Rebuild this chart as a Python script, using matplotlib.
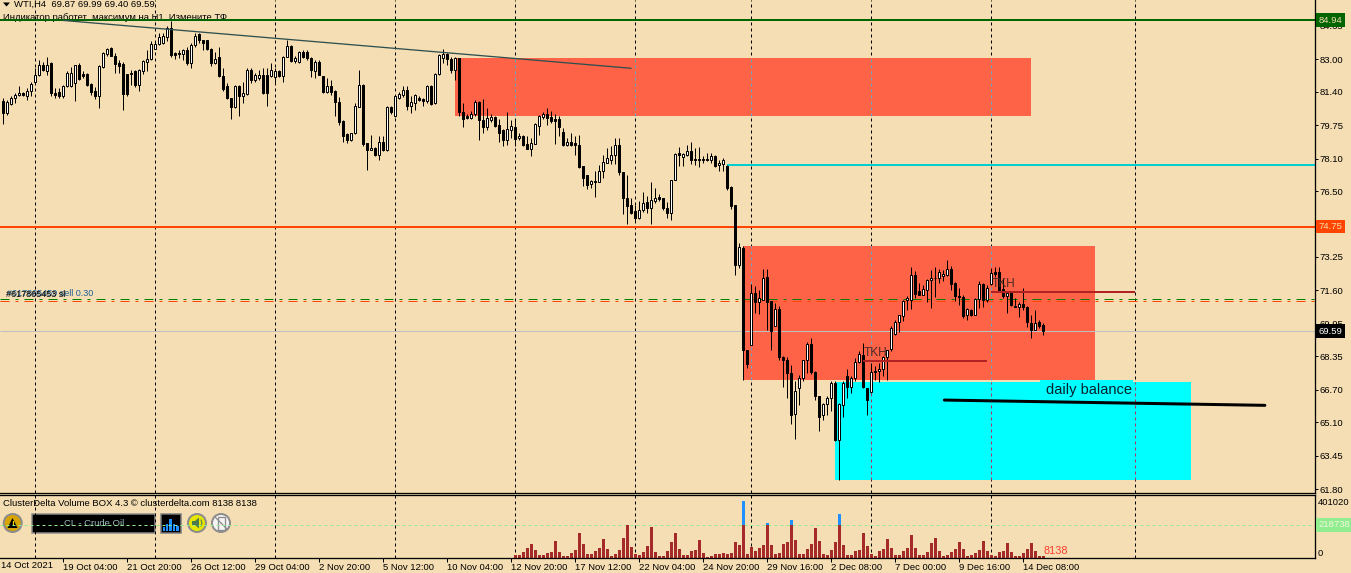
'''
WTI H4 terminal screenshot redone in matplotlib: candles, zones, levels, cluster volume pane
'''
import numpy as np
from matplotlib import pyplot as plt
from matplotlib.patches import Circle, Polygon, Rectangle

plt.rcParams['font.family'] = ['Liberation Sans', 'DejaVu Sans']

# candles, one value per H4 bar
opens = [80.95,80.34,80.80,81.07,81.23,81.33,81.20,81.43,81.86,82.23,
    82.71,82.40,82.84,81.36,81.40,81.20,81.66,81.69,81.82,82.73,
    82.28,82.28,81.79,81.44,81.20,82.64,83.25,83.55,83.17,82.81,
    82.78,82.28,82.28,82.41,81.74,82.40,82.89,83.01,83.53,83.75,
    83.79,84.12,84.53,83.30,83.33,83.27,83.47,82.81,83.71,84.24,
    83.93,83.93,83.50,82.84,83.10,82.18,81.69,81.08,80.67,81.66,
    81.17,81.30,82.48,81.99,82.07,82.23,82.23,82.18,82.15,82.40,
    82.18,83.10,83.66,82.94,82.89,83.38,83.38,83.05,82.40,82.89,
    82.18,81.41,
    81.69,81.46,80.90,79.97,79.33,79.03,79.36,80.67,81.74,78.87,
    78.51,78.64,78.29,78.93,78.51,80.64,80.18,81.10,81.25,81.50,
    80.71,80.87,81.08,81.04,80.94,81.69,80.84,82.27,83.09,83.27,
    83.02,82.48,83.06,80.41,80.21,80.12,80.28,80.90,80.02,79.66,
    80.02,80.16,79.77,79.49,79.03,79.52,79.67,79.10,79.23,78.83,
    78.60,78.83,79.69,80.15,80.31,80.15,80.05,80.08,79.43,78.78,
    78.90,78.87,78.77,77.75,77.31,76.83,77.01,76.96,77.47,77.91,
    78.05,78.26,78.78,77.45,76.17,75.83,75.51,75.19,75.55,75.94,
    75.65,76.01,76.21,76.17,75.65,75.42,77.03,78.37,78.18,78.29,
    78.49,78.09,78.09,78.09,78.06,78.01,78.21,77.77,77.85,77.75,
    76.68,75.82,72.83,73.70,68.68,68.92,71.47,71.01,
    71.14,72.26,71.08,69.83,70.70,68.30,68.18,67.53,65.51,66.77,
    67.26,68.15,68.97,67.59,66.41,65.44,66.00,66.28,67.03,64.21,
    65.93,67.36,66.84,67.26,68.05,68.43,66.79,66.59,67.64,67.61,
    67.72,68.30,68.71,69.47,70.03,70.32,71.11,71.14,72.36,71.59,
    71.39,71.60,72.09,72.23,72.21,72.29,72.37,72.67,71.96,71.34,
    71.27,70.40,70.65,70.37,71.17,71.91,71.11,71.91,72.50,72.50,
    71.67,71.31,71.50,70.85,70.78,70.94,70.78,69.99,69.66,70.06,
    69.87]
highs = [81.08,81.00,81.17,81.33,81.66,81.41,81.58,81.90,82.56,82.97,
    82.89,83.10,82.89,81.58,81.58,81.74,82.40,82.64,82.73,82.81,
    82.40,82.32,81.82,81.63,82.73,83.38,83.58,83.63,83.30,82.97,
    82.89,82.28,82.45,82.45,82.51,82.97,83.47,83.88,83.88,84.29,
    84.29,84.62,84.91,83.38,83.47,83.50,83.63,83.79,84.29,84.32,
    83.96,83.96,83.55,83.38,83.63,82.56,81.82,81.08,81.74,81.74,
    81.90,82.56,82.56,82.32,82.48,82.56,82.56,82.81,82.56,82.48,
    83.14,83.96,83.71,83.14,83.43,83.47,83.47,83.10,82.97,82.97,
    82.18,82.07,
    81.96,81.50,81.13,80.02,79.36,79.39,80.84,82.48,81.79,78.87,
    79.28,78.67,79.20,79.20,80.71,80.71,81.25,81.41,81.66,81.66,
    81.17,81.28,81.17,81.08,81.74,81.74,82.32,83.27,83.50,83.30,
    83.11,83.11,83.09,80.84,80.31,80.43,80.97,80.92,81.04,80.59,
    80.31,80.21,80.05,79.56,80.41,80.02,80.02,79.36,79.28,79.20,
    79.11,79.85,80.26,80.38,80.59,80.46,80.31,80.18,79.61,79.11,
    79.36,79.20,79.28,77.75,77.31,77.06,77.47,77.80,78.29,78.62,
    78.70,79.11,79.11,77.45,77.31,76.16,75.83,75.99,76.44,76.24,
    76.93,76.65,76.37,76.17,75.94,77.06,78.37,78.67,78.37,78.78,
    78.93,78.62,78.67,78.21,78.37,78.37,78.29,78.05,78.13,77.80,
    76.76,75.82,73.93,73.80,68.68,71.93,71.80,71.63,
    72.65,72.65,71.08,70.98,70.81,68.35,68.32,67.94,67.12,67.44,
    68.18,69.04,69.25,67.61,66.41,66.05,66.41,67.12,67.12,66.05,
    67.12,67.72,67.36,68.27,68.59,69.00,66.79,68.02,67.86,68.02,
    68.38,68.68,69.83,70.15,70.40,71.14,71.31,72.75,72.54,71.96,
    71.88,72.16,72.62,72.75,72.65,72.59,73.11,72.78,72.00,71.72,
    71.39,70.73,70.68,71.22,72.04,71.96,71.88,72.70,72.75,72.75,
    72.21,71.55,71.50,71.22,71.01,71.72,70.81,70.40,70.65,70.15,
    69.99]
lows = [79.82,80.26,80.75,80.84,81.17,81.17,81.00,81.17,81.82,82.18,
    82.40,82.23,81.17,81.08,81.08,81.08,81.63,81.63,80.92,81.99,
    82.07,81.66,81.25,81.03,80.59,82.56,83.14,83.14,82.35,82.32,
    80.51,81.17,81.74,81.63,81.46,82.28,82.40,82.97,83.50,83.71,
    83.76,83.88,83.10,83.01,83.05,82.97,82.73,82.56,83.63,83.83,
    83.47,83.47,82.68,82.78,82.12,81.46,81.03,80.05,80.59,80.18,
    80.84,81.25,81.82,81.90,81.99,81.30,80.71,82.15,81.82,82.15,
    81.90,83.10,82.89,82.84,82.84,83.05,82.97,82.15,82.07,82.23,
    81.33,81.33,
    81.25,80.18,79.77,78.90,78.87,78.95,79.33,80.67,78.74,77.52,
    78.51,78.21,78.05,78.46,78.46,80.31,80.15,81.04,81.13,80.51,
    80.35,80.51,80.92,80.71,80.84,80.76,80.81,82.23,82.84,82.73,
    82.32,81.99,80.21,79.66,80.05,80.05,80.21,79.03,79.36,79.52,
    79.93,79.66,78.90,78.70,78.78,79.11,78.74,79.03,78.70,78.57,
    78.21,78.83,79.28,80.05,79.77,79.85,78.83,79.20,78.74,78.74,
    78.70,78.29,77.63,76.76,76.60,76.65,76.21,76.93,77.14,77.88,
    77.85,77.85,77.31,75.38,74.89,75.38,75.01,75.12,75.45,75.42,
    74.89,75.91,75.99,75.58,75.17,75.05,77.03,77.75,77.72,78.21,
    77.85,77.80,77.68,77.88,77.96,77.91,77.68,77.47,77.47,76.53,
    75.64,72.37,72.70,67.20,67.77,68.92,70.48,70.45,
    71.11,69.63,68.64,69.83,68.19,66.84,66.29,65.03,64.27,65.97,
    67.12,67.53,67.49,66.18,64.65,65.19,65.47,65.64,64.16,62.24,
    65.34,66.29,66.54,67.12,68.02,66.77,65.44,66.54,67.20,67.08,
    67.36,67.20,68.60,69.42,69.53,70.07,70.65,70.68,71.22,71.35,
    71.39,71.01,70.73,71.27,71.96,72.04,72.33,71.63,71.06,70.90,
    70.24,70.12,70.32,70.37,70.73,70.78,71.01,71.88,72.26,71.55,
    71.22,70.48,70.81,70.77,70.27,70.65,69.78,69.25,69.66,69.74,
    69.40]
closes = [80.34,80.90,81.08,81.25,81.33,81.26,81.44,81.79,82.23,82.71,
    82.45,82.71,81.36,81.23,81.20,81.69,82.35,82.35,82.73,82.04,
    82.18,81.74,81.41,81.20,82.68,83.30,83.51,83.17,82.76,82.69,
    81.30,81.30,82.35,81.74,82.45,82.92,83.01,83.75,83.75,84.12,
    84.16,84.53,83.22,83.22,83.27,83.47,82.84,83.71,84.16,83.93,
    83.83,83.50,82.84,83.01,82.18,81.53,81.07,80.67,81.66,81.17,
    81.33,82.48,81.99,82.23,82.23,81.33,81.33,82.48,82.43,82.18,
    83.10,83.66,82.94,83.05,83.38,83.10,83.05,82.45,82.89,82.23,
    81.41,81.69,
    81.41,80.90,79.93,79.20,79.03,79.36,80.71,81.74,78.83,78.54,
    78.64,78.29,78.93,78.51,80.67,80.38,81.20,81.28,81.50,80.71,
    80.89,81.25,81.00,80.95,81.69,80.81,82.27,83.22,83.27,83.02,
    82.48,83.06,80.38,80.08,80.13,80.30,80.90,80.02,79.66,80.10,
    80.15,79.72,79.36,79.03,79.56,79.72,79.08,79.23,78.78,78.59,
    78.87,79.82,80.21,80.30,80.12,79.95,79.97,79.66,78.78,78.92,
    78.78,78.78,77.68,77.13,76.80,77.01,76.94,77.49,77.95,78.13,
    78.29,78.78,77.42,76.17,75.78,75.42,75.19,75.58,75.91,75.65,
    76.07,76.17,76.11,75.65,75.42,77.06,78.32,78.29,78.32,78.49,
    78.05,78.05,78.01,78.03,78.01,78.21,77.72,77.88,78.05,76.63,
    75.78,72.83,73.74,68.64,67.99,71.47,71.01,71.22,
    72.21,71.01,69.61,70.68,68.30,68.15,67.53,65.44,66.64,67.28,
    68.15,68.97,67.59,66.38,65.34,66.00,66.29,67.03,64.24,65.99,
    67.03,66.82,67.28,68.07,68.46,66.82,66.21,67.58,67.56,67.74,
    68.32,68.68,69.74,70.04,70.40,71.09,71.22,72.36,71.44,71.39,
    71.68,72.13,72.21,72.19,72.50,72.41,72.65,71.93,71.31,71.26,
    70.32,70.68,70.37,71.19,71.91,71.11,71.72,72.46,72.42,71.59,
    71.31,71.47,70.88,70.77,70.94,70.77,70.03,69.66,69.99,69.83,
    69.59]

# cluster volume, starts at bar 128
vol_start = 128
volumes = [13400,13400,33500,60300,93700,46900,13400,13400,26800,33500,
    113800,33500,6700,6700,26800,46900,167400,93700,20100,20100,
    40200,60300,127200,53600,6700,20100,46900,133900,216000,67000,
    20100,13400,33500,73700,200900,33500,6700,6700,40200,107100,
    167400,53600,13400,13400,40200,46900,120500,26800,2200,6700,
    20100,20100,26800,20100,26800,107100,87000,375000,20100,67000,
    40200,60300,87000,227700,87000,20100,26800,
    93700,107100,247800,120500,20100,20100,53600,93700,194200,113800,
    20100,13400,46900,107100,294600,80400,13400,13400,40200,46900,
    167400,73700,20100,6700,40200,53600,127200,60300,13400,13400,
    40200,60300,154000,60300,13400,13400,33500,100400,133900,40200,
    6700,13400,33500,53600,107100,53600,6700,13400,26800,46900,
    113800,40200,13400,6700,33500,40200,100400,33500,6700,6700,
    26800,53600,100400,40200,6700,8138]
vol_level = 218738

# levels: price, first bar, colour
level_prices = [84.94, 77.79, 74.75]
level_starts = [-1, 181, -1]
level_colors = ['#006400', '#00CED1', '#FF4500']
bid = 69.59
order_prices = [71.16, 71.06]
order_colors = ['#008000', '#FF4500']

# zones: first bar, last bar, top, bottom
zone_left = [112.925, 184.925, 207.925]
zone_right = [256.925, 272.925, 296.925]
zone_top = [83.07, 73.79, 67.08]
zone_bottom = [80.21, 67.18, 62.25]
zone_colors = ['#FF6347', '#FF6347', '#00FFFF']
zone_grid = ['#6aa6c4', '#6aa6c4', '#b03060']

# drawn lines
trend_x, trend_y = [14.9, 156.9], [84.92, 82.56]
balance_x, balance_y = [235.25, 315.4], [66.19, 65.93]
tkh_x = [(215, 246), (247, 283)]
tkh_y = [68.13, 71.54]

grid_bars = [8, 38, 68, 98, 128, 158, 187, 217, 247, 283]
price_ticks = [84.65, 83.00, 81.40, 79.75, 78.10, 76.50, 73.25, 71.60, 69.95, 68.35, 66.70, 65.10, 63.45, 61.80]
time_bars = [15 + 16*k for k in range(16)]
time_labels = ['19 Oct 04:00', '21 Oct 20:00', '26 Oct 12:00', '29 Oct 04:00', '2 Nov 20:00', '5 Nov 12:00',
    '10 Nov 04:00', '12 Nov 20:00', '17 Nov 12:00', '22 Nov 04:00', '24 Nov 20:00', '29 Nov 16:00',
    '2 Dec 08:00', '7 Dec 00:00', '9 Dec 16:00', '14 Dec 08:00']

BG = '#F5DEB3'
W, H = 1351, 573
PX = 0.72  # one pixel in points at dpi 100
FS = 6.8

fig = plt.figure(figsize=(W/100, H/100), dpi=100, facecolor=BG)

# pixel canvas under the chart for header text and the indicator buttons
ui = fig.add_axes([0, 0, 1, 1], zorder=0, facecolor='none')
ui.set_xlim(0, W)
ui.set_ylim(H, 0)
ui.axis('off')

ax = fig.add_axes([0, 1 - 492.5/H, 1314.5/W, 492.5/H], zorder=1, facecolor='none')
vx = fig.add_axes([0, 1 - 557.5/H, 1314.5/W, 63/H], zorder=1, facecolor='none')

xlim = (-3.3/4, (1314.5 - 3.3)/4)
ax.set_xlim(*xlim)
ax.set_ylim(85.927 - 492.5/20.27, 85.927)
vx.set_xlim(*xlim)
vx.set_ylim(0, 63*6696)

# time grid under everything
ax.vlines(grid_bars, 0, 1, transform=ax.get_xaxis_transform(), colors='black', lw=PX,
    linestyles=(0, (3, 3)), zorder=0.5)
vx.vlines(grid_bars, 0, 1, transform=vx.get_xaxis_transform(), colors='black', lw=PX,
    linestyles=(0, (3, 3)), zorder=0.5)

for left, right, top, bottom, color, gcolor in zip(zone_left, zone_right, zone_top, zone_bottom, zone_colors, zone_grid):
    ax.add_patch(Rectangle((left, bottom), right - left, top - bottom, fc=color, ec='none', zorder=1))
    inside = [b for b in grid_bars if left < b < right]
    ax.vlines(inside, bottom, top, colors=gcolor, lw=PX, linestyles=(0, (3, 3)), zorder=1.2)

# text box behind the balance label
ax.add_patch(Rectangle((259.175, 66.9), 23.3, 0.28, fc='#00FFFF', ec='none', zorder=1))

for price, start, color in zip(level_prices, level_starts, level_colors):
    ax.hlines(price, start, xlim[1], colors=color, lw=2*PX, zorder=2)
ax.hlines(bid, xlim[0], xlim[1], colors='#C0C0C0', lw=PX, zorder=2)
for price, color in zip(order_prices, order_colors):
    ax.hlines(price, xlim[0], xlim[1], colors=color, lw=PX, linestyles=(0, (9, 6, 3, 6)), zorder=2)

# candles
bars = np.arange(len(opens))
o, h, l, c = np.array(opens), np.array(highs), np.array(lows), np.array(closes)
up = c >= o
ax.vlines(bars, l, h, colors='black', lw=PX, zorder=3)
ax.bar(bars, np.abs(c - o), bottom=np.minimum(o, c), width=0.5,
    color=np.where(up, 'white', 'black'), edgecolor='black', linewidth=PX, zorder=3.1)

ax.plot(trend_x, trend_y, color='#2F4F4F', lw=1.3*PX, zorder=4)
ax.plot(balance_x, balance_y, color='black', lw=3*PX, zorder=4, solid_capstyle='round')
for (x0, x1), y in zip(tkh_x, tkh_y):
    ax.hlines(y, x0, x1, colors='#B22222', lw=2*PX, zorder=4)
    ax.text(x0, y + 0.07, 'TKH', fontsize=8.6, color='#4a2a24', ha='left', va='bottom', zorder=5)
ax.text(260.7, 66.7, 'daily balance', fontsize=10.5, color='#06202c', ha='left', va='center', zorder=5)

ax.text(1.0, 71.47, '#617865459 sell 0.30', fontsize=6.5, color='#1f5f96', ha='left', va='center', zorder=5)
ax.text(0.7, 71.39, '#617865453 sl', fontsize=6.5, color='black', ha='left', va='center', zorder=5)

# price axis
for side in ['top', 'left']:
    ax.spines[side].set_visible(False)
    vx.spines[side].set_visible(False)
vx.spines['top'].set_visible(True)
for a in [ax, vx]:
    for s in a.spines.values():
        s.set_linewidth(1.3*PX)
ax.yaxis.tick_right()
ax.set_yticks(price_ticks)
ax.set_yticklabels(['%.2f' % p for p in price_ticks], fontsize=FS, color='black')
ax.tick_params(axis='y', length=2.2, width=PX, pad=1.5)
ax.set_xticks([])

tag_x = 1318.5/1314.5
for price, fc, tc in [(84.94, '#006400', BG), (74.75, '#FF4500', BG), (69.59, 'black', 'white')]:
    ax.text(tag_x, price, '%.2f' % price, transform=ax.get_yaxis_transform(), fontsize=FS, color=tc,
        ha='left', va='center', clip_on=False, zorder=10,
        bbox=dict(fc=fc, ec='none', boxstyle='square,pad=0.25'))

# volume pane
vol_x = np.arange(vol_start, vol_start + len(volumes))
vol = np.array(volumes)
vx.bar(vol_x, np.minimum(vol, vol_level), width=0.75, color='#A52A2A', lw=0, zorder=2)
vx.bar(vol_x, np.maximum(vol - vol_level, 0), bottom=vol_level, width=0.75, color='#1E90FF', lw=0, zorder=2)
vx.hlines(vol_level, xlim[0], xlim[1], colors='#90EE90', lw=PX, linestyles=(0, (3, 3)), zorder=1)
vx.text(vol_x[-1], 8138, '8138', fontsize=7.8, color='#FF3B30', ha='left', va='bottom', zorder=3)

vx.yaxis.tick_right()
vx.set_yticks([0, vol_level, 376000])
vx.set_yticklabels(['0', '', '401020'], fontsize=FS)
vx.tick_params(axis='y', length=0, pad=2.5)
vx.get_yticklabels()[0].set_va('bottom')
vx.text(tag_x, vol_level, str(vol_level), transform=vx.get_yaxis_transform(), fontsize=FS, color='#F5F5DC',
    ha='left', va='center', clip_on=False, zorder=10, bbox=dict(fc='#90EE90', ec='none', boxstyle='square,pad=0.25'))

vx.set_xticks(time_bars)
vx.set_xticklabels(time_labels, fontsize=FS, ha='left')
vx.tick_params(axis='x', length=3, width=PX, pad=0.8)
ui.text(1, 566, '14 Oct 2021', fontsize=FS, ha='left', va='center')

# header
ui.add_patch(Polygon([(3, 2.5), (10, 2.5), (6.5, 6.5)], fc='black', ec='none'))
ui.text(14, 4.3, 'WTI,H4  69.87 69.99 69.40 69.59', fontsize=FS, ha='left', va='center')
ui.text(3, 17.5, 'Индикатор работет  максимум на Н1. Измените ТФ', fontsize=FS, ha='left', va='center')
ui.text(3, 503, 'ClusterDelta Volume BOX 4.3 © clusterdelta.com 8138 8138', fontsize=FS, ha='left', va='center')

# indicator buttons
def button(cx, cy, fill):
    ui.add_patch(Circle((cx, cy), 9, fc=fill, ec='#8c8c8c', lw=2*PX))

button(12.7, 523, '#D8A400')
ui.add_patch(Polygon([(7.5, 528), (17.5, 528), (12.5, 518)], fc='black', ec='none'))
ui.text(12.5, 524.5, '!', fontsize=6, color='#FFD700', ha='center', va='center', weight='bold')

ui.add_patch(Rectangle((31.5, 513.5), 123, 19, fc='black', ec='#8c8c8c', lw=1.5*PX))
ui.text(94, 523, 'CL - Crude Oil', fontsize=FS, color='#9dbcbc', ha='center', va='center')

ui.add_patch(Rectangle((160.5, 513.5), 20, 19, fc='black', ec='#7d7d7d', lw=1.5*PX))
for i, top in enumerate([527, 524, 519, 524, 526]):
    ui.add_patch(Rectangle((162.5 + 3.4*i, top), 2.4, 531 - top, fc='#1E90FF', ec='none'))

button(197, 523, '#E6E600')
ui.add_patch(Polygon([(192, 521), (195, 521), (199, 517.5), (199, 528.5), (195, 525), (192, 525)], fc='#4d7a4d', ec='none'))
ui.plot([201, 202, 201], [520, 523, 526], color='#4d7a4d', lw=PX)

button(221, 523, '#F4F4F4')
ui.add_patch(Rectangle((217.5, 516.5), 7, 13, fc='none', ec='#8c8c8c', lw=1.3*PX))
ui.plot([215, 227], [517, 529], color='#8c8c8c', lw=1.3*PX)

fig.savefig('out.png', dpi=100, facecolor=BG)
